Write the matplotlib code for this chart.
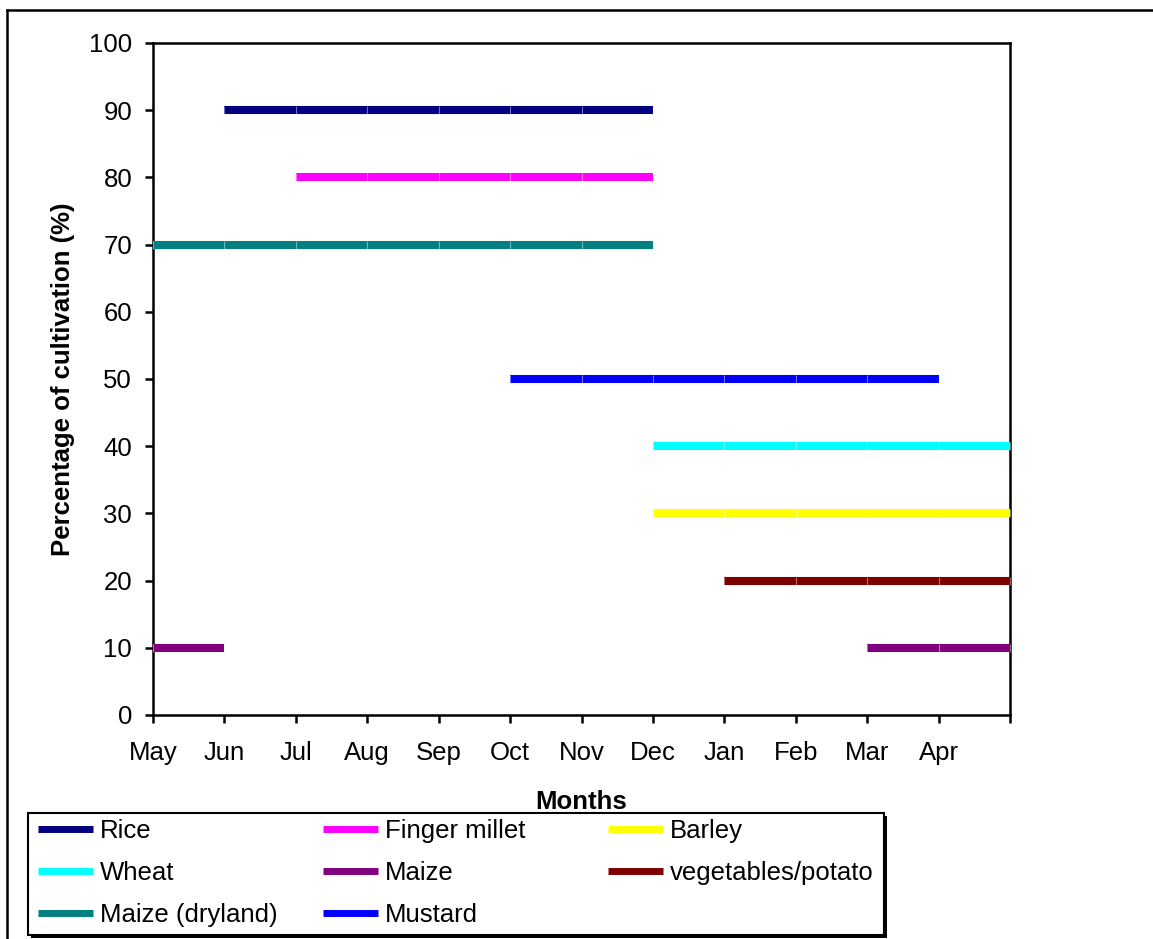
import numpy as np
import matplotlib.pyplot as plt
from matplotlib.lines import Line2D
from matplotlib.patches import Rectangle

plt.rcParams['font.family'] = ['Liberation Sans', 'DejaVu Sans']

months = ['May', 'Jun', 'Jul', 'Aug', 'Sep', 'Oct', 'Nov', 'Dec', 'Jan', 'Feb', 'Mar', 'Apr', '']
n = np.nan

rice = [n, 90, 90, 90, 90, 90, 90, 90, n, n, n, n, n]
finger_millet = [n, n, 80, 80, 80, 80, 80, 80, n, n, n, n, n]
maize_dry = [70, 70, 70, 70, 70, 70, 70, 70, n, n, n, n, n]
mustard = [n, n, n, n, n, 50, 50, 50, 50, 50, 50, 50, n]
wheat = [n, n, n, n, n, n, n, 40, 40, 40, 40, 40, 40]
barley = [n, n, n, n, n, n, n, 30, 30, 30, 30, 30, 30]
veg = [n, n, n, n, n, n, n, n, 20, 20, 20, 20, 20]
maize = [10, 10, n, n, n, n, n, n, n, n, 10, 10, 10]

series = [
    ('Rice', rice, '#000080'),
    ('Finger millet', finger_millet, '#FF00FF'),
    ('Barley', barley, '#FFFF00'),
    ('Wheat', wheat, '#00FFFF'),
    ('Maize', maize, '#800080'),
    ('vegetables/potato', veg, '#800000'),
    ('Maize (dryland)', maize_dry, '#008080'),
    ('Mustard', mustard, '#0000FF'),
]

W, H = 1153, 939
fs = 18.5

fig = plt.figure(figsize=(W / 100, H / 100), dpi=100)
ax = fig.add_axes([153 / W, 1 - 715 / H, (1010 - 153) / W, (715 - 43) / H])

x = np.arange(len(months))
for name, vals, col in series:
    ax.plot(x, vals, color=col, lw=5.8, solid_capstyle='butt', zorder=3)
    # faint separators at each month point (Excel-like segments)
    ax.plot(x, vals, ls='none', marker='|', ms=5.8, mew=0.8,
            mec=(1, 1, 1, 0.45), zorder=4)

ax.set_xlim(0, 12)
ax.set_ylim(0, 100)
ax.set_xticks(x)
ax.set_xticklabels(months)
ax.set_yticks(np.arange(0, 101, 10))
for s in ax.spines.values():
    s.set_linewidth(1.8)
ax.tick_params(direction='out', length=6, width=1.8, labelsize=fs)
ax.tick_params(axis='y', pad=9)
ax.tick_params(axis='x', pad=13)
ax.set_ylabel('Percentage of cultivation (%)', fontsize=fs, fontweight='bold', labelpad=10)
ax.set_xlabel('Months', fontsize=fs, fontweight='bold', labelpad=18)

# legend frame with a black drop shadow
lx0, lx1, ly0, ly1 = 28, 884, 813, 935
fig.add_artist(Rectangle(((lx0 + 3) / W, 1 - (ly1 + 3) / H), (lx1 - lx0) / W, (ly1 - ly0) / H,
                         transform=fig.transFigure, facecolor='black', edgecolor='black', lw=0))
fig.add_artist(Rectangle((lx0 / W, 1 - ly1 / H), (lx1 - lx0) / W, (ly1 - ly0) / H,
                         transform=fig.transFigure, facecolor='white', edgecolor='black', lw=1.5))

# three equal-width legend columns, as in the original
columns = [[0, 3, 6], [1, 4, 7], [2, 5]]
col_x = [38, 323, 608]
for cx, idx in zip(col_x, columns):
    handles = [Line2D([], [], color=series[i][2], lw=5, solid_capstyle='butt') for i in idx]
    labels = [series[i][0] for i in idx]
    leg = fig.legend(handles, labels, loc='upper left', bbox_to_anchor=(cx / W, 1 - 819 / H),
                     frameon=False, fontsize=fs, borderpad=0, borderaxespad=0,
                     handlelength=2.14, handletextpad=0.27, labelspacing=0.7)
    leg.set_zorder(5)

# partial outer border (left and top visible in the original)
fig.add_artist(Line2D([7 / W, 7 / W], [0, 1 - 10 / H], color='black', lw=1.8,
                      transform=fig.transFigure))
fig.add_artist(Line2D([7 / W, 1], [1 - 10 / H, 1 - 10 / H], color='black', lw=1.8,
                      transform=fig.transFigure))

fig.savefig('out.png', dpi=100)
